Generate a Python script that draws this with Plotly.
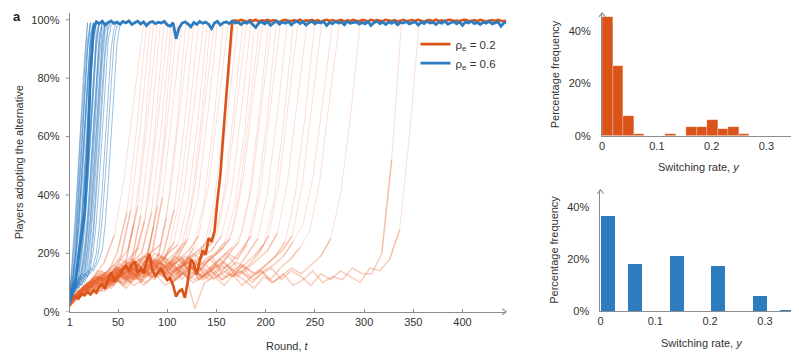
import plotly.graph_objects as go

W, H = 799, 352

# ------------------------------------------------------------------ data
round_ticks = [1, 50, 100, 150, 200, 250, 300, 350, 400]
pct_ticks_a = [0, 20, 40, 60, 80, 100]
pct_text_a = ["0%", "20%", "40%", "60%", "80%", "100%"]
pct_ticks_bc = [0, 20, 40]
pct_text_bc = ["0%", "20%", "40%"]
rate_ticks = [0, 0.1, 0.2, 0.3]
rate_ticktext = ["0", "0.1", "0.2", "0.3"]

# highlighted runs, sampled every 3 rounds from round 1
main_rounds = list(range(1, 446, 3))
orange_main = [
    4.0, 4.6, 5.3, 4.5, 6.2, 5.6, 6.8, 5.9, 7.4, 6.6,
    8.6, 9.4, 7.8, 11.2, 13.5, 10.3, 11.8, 12.6, 14.4, 15.6,
    14.2, 16.0, 17.2, 13.4, 14.6, 13.2, 17.0, 19.8, 14.0, 12.2,
    13.8, 15.0, 12.4, 10.8, 11.6, 9.0, 5.2, 7.0, 7.6, 4.8,
    10.5, 18.0, 16.5, 12.8, 17.4, 21.0, 19.5, 25.2, 24.0, 27.5,
    38.0, 47.0, 61.0, 74.0, 88.0, 99.5,
    99.8, 99.5, 100, 99.7, 99.3, 99.9, 99.6, 100, 99.4, 99.8,
    99.7, 100, 99.5, 99.9, 99.6, 99.2, 99.8, 100, 99.7, 99.5,
    99.9, 99.6, 100, 99.4, 99.8, 99.7, 100, 99.5, 99.9, 99.3,
    99.8, 100, 99.6, 99.9, 99.5, 99.7, 100, 99.4, 99.8, 99.6,
    100, 99.7, 99.5, 99.9, 99.8, 99.3, 100, 99.6, 99.9, 99.7,
    99.5, 100, 99.8, 99.6, 99.9, 99.4, 99.7, 100, 99.5, 99.8,
    99.9, 99.6, 100, 99.7, 99.3, 99.8, 99.9, 99.5, 100, 99.6,
    99.8, 99.4, 99.9, 100, 99.6, 99.7, 99.5, 99.9, 100, 99.7,
    99.6, 99.9, 99.5, 100, 99.8, 99.4, 99.7, 99.9, 99.6, 100,
    99.7, 99.5, 99.8,
]
blue_main = [
    3, 7, 11, 19, 26, 34, 52, 82, 97,
    99.3, 98.7, 99.5, 98.2, 99.1, 99.6, 98.8, 99.2, 98.5, 99.4,
    98.9, 99.6, 98.4, 99.0, 99.5, 98.6, 99.3, 98.0, 99.1, 99.4,
    98.7, 99.2, 98.9, 99.5, 98.3, 97.8, 99.0, 93.5, 97.2, 98.8,
    99.3, 98.6, 97.6, 99.1, 98.4, 99.4, 98.8, 99.2, 98.5, 97.0,
    98.9, 99.5, 98.2, 99.0, 99.3, 98.7, 99.6, 98.9, 99.1, 98.4,
    99.2, 98.8, 99.5, 98.3, 97.4, 98.9, 99.3, 98.6, 99.4, 98.1,
    99.0, 99.6, 98.5, 99.2, 98.8, 99.4, 98.3, 99.1, 99.5, 98.7,
    99.3, 98.2, 99.0, 99.5, 98.6, 99.2, 98.9, 99.4, 98.0, 99.1,
    98.7, 99.4, 98.9, 99.2, 98.3, 99.5, 98.8, 99.0, 99.3, 98.5,
    99.1, 98.6, 99.4, 98.1, 99.0, 99.5, 98.7, 99.2, 98.4, 99.3,
    98.8, 99.5, 98.3, 99.1, 98.9, 99.4, 98.6, 99.0, 99.3, 98.2,
    99.2, 98.7, 99.5, 98.9, 99.1, 98.4, 99.3, 98.8, 99.6, 98.5,
    99.0, 99.4, 98.6, 99.2, 98.1, 99.3, 98.9, 99.5, 98.7, 99.1,
    98.4, 99.2, 98.8, 99.5, 98.6, 99.0, 99.3, 97.8, 98.9, 99.2,
]

# other rho_e = 0.2 runs: first value at round 1, the rest every 10 rounds
# ending at the round where the run reaches 100 %
orange_thin_end = [76, 79, 83, 86, 90, 93, 97, 101, 104, 106, 110, 115, 119,
                   123, 127, 132, 137, 141, 144, 148, 151, 157, 162, 168, 172,
                   177, 181, 185, 189, 194, 197, 203, 206, 211, 215, 222, 228,
                   233, 242, 250, 257, 268, 275, 296, 338, 356]
orange_thin_values = [
    [3, 5, 8, 12, 17, 26, 45, 72, 99],
    [2, 6, 9, 14, 13, 20, 34, 63, 99],
    [4, 4, 7, 10, 12, 15, 19, 35, 64, 99],
    [2, 5, 9, 8, 13, 16, 14, 30, 58, 99],
    [3, 7, 10, 12, 11, 17, 21, 36, 66, 99],
    [5, 6, 8, 11, 14, 12, 18, 16, 33, 61, 99],
    [2, 4, 7, 10, 9, 15, 13, 19, 31, 60, 99],
    [3, 6, 9, 12, 10, 16, 18, 22, 38, 67, 99],
    [4, 5, 8, 7, 11, 14, 12, 17, 20, 34, 63, 99],
    [2, 5, 6, 10, 13, 9, 15, 18, 14, 29, 57, 99],
    [3, 7, 9, 12, 8, 14, 17, 13, 19, 36, 65, 99],
    [4, 5, 8, 11, 13, 10, 16, 14, 18, 21, 39, 68, 99],
    [2, 6, 10, 9, 12, 15, 11, 17, 20, 16, 32, 61, 99],
    [3, 4, 7, 9, 13, 11, 14, 18, 15, 20, 23, 40, 70, 99],
    [5, 6, 9, 12, 10, 15, 13, 17, 19, 14, 21, 35, 63, 99],
    [2, 3, 6, 8, 11, 9, 14, 16, 12, 18, 15, 22, 38, 66, 99],
    [4, 5, 9, 10, 13, 15, 11, 17, 14, 20, 18, 24, 41, 69, 99],
    [3, 7, 8, 12, 10, 14, 17, 13, 19, 16, 20, 23, 37, 65, 99],
    [2, 4, 8, 11, 9, 13, 16, 12, 18, 15, 19, 17, 22, 36, 64, 99],
    [4, 6, 9, 8, 12, 14, 10, 16, 19, 13, 17, 20, 24, 42, 71, 99],
    [3, 7, 10, 13, 11, 15, 12, 18, 14, 20, 16, 19, 25, 39, 67, 99],
    [5, 6, 8, 12, 10, 14, 17, 11, 15, 18, 13, 19, 16, 22, 37, 64, 99],
    [2, 3, 6, 9, 7, 11, 13, 10, 15, 12, 17, 14, 18, 21, 26, 43, 70, 99],
    [4, 5, 8, 11, 9, 13, 16, 12, 14, 18, 15, 11, 17, 20, 23, 38, 66, 99],
    [3, 4, 7, 9, 12, 10, 14, 11, 16, 13, 17, 15, 12, 18, 20, 25, 41, 69, 99],
    [2, 6, 8, 10, 13, 11, 15, 17, 13, 16, 19, 14, 18, 15, 21, 24, 39, 67, 99],
    [4, 7, 9, 12, 10, 14, 12, 16, 18, 14, 17, 13, 19, 16, 22, 27, 44, 72, 99],
    [3, 5, 8, 7, 11, 13, 9, 15, 12, 17, 14, 18, 11, 16, 19, 21, 26, 40, 68, 99],
    [2, 6, 9, 11, 10, 14, 16, 12, 18, 15, 13, 17, 19, 14, 18, 20, 24, 37, 63, 99],
    [4, 5, 7, 10, 12, 9, 13, 15, 11, 17, 14, 16, 19, 13, 15, 18, 21, 25, 42, 70, 99],
    [3, 6, 8, 9, 12, 14, 11, 16, 13, 18, 15, 12, 17, 20, 16, 19, 22, 28, 45, 73, 99],
    [2, 3, 6, 9, 11, 8, 12, 14, 10, 15, 13, 17, 14, 11, 16, 18, 15, 20, 24, 39, 67, 99],
    [4, 5, 9, 11, 8, 13, 15, 12, 16, 14, 18, 13, 17, 15, 12, 16, 19, 22, 27, 43, 71, 99],
    [3, 7, 8, 12, 10, 14, 11, 16, 13, 17, 15, 19, 14, 16, 12, 17, 20, 18, 23, 38, 65, 99],
    [2, 4, 7, 10, 9, 12, 15, 11, 14, 17, 13, 16, 18, 12, 15, 19, 14, 17, 21, 26, 42, 70, 99],
    [3, 4, 6, 8, 11, 13, 10, 14, 12, 16, 18, 13, 15, 17, 11, 14, 16, 19, 15, 20, 25, 41, 68, 99],
    [4, 6, 9, 7, 12, 10, 14, 16, 12, 15, 13, 17, 14, 18, 12, 15, 17, 13, 16, 19, 23, 37, 64, 99],
    [2, 3, 7, 9, 8, 11, 13, 10, 15, 12, 14, 17, 13, 16, 11, 14, 18, 15, 13, 16, 20, 26, 43, 71, 99],
    [3, 4, 5, 8, 10, 9, 12, 14, 11, 13, 16, 12, 15, 17, 13, 11, 14, 16, 12, 15, 18, 21, 27, 44, 72, 99],
    [4, 7, 9, 11, 10, 13, 15, 12, 16, 14, 11, 15, 17, 13, 16, 12, 14, 17, 15, 13, 16, 19, 24, 40, 67, 99],
    [2, 5, 8, 7, 10, 12, 9, 13, 15, 11, 14, 12, 16, 13, 15, 11, 14, 12, 16, 13, 15, 18, 21, 26, 43, 70, 99],
    [3, 6, 8, 10, 9, 12, 14, 11, 13, 16, 12, 15, 13, 11, 14, 16, 12, 15, 13, 11, 14, 16, 19, 24, 30, 46, 72, 99],
    [4, 5, 7, 9, 12, 10, 13, 11, 15, 12, 14, 10, 13, 15, 12, 14, 11, 13, 16, 12, 14, 11, 15, 18, 22, 28, 45, 73, 99],
    [2, 4, 6, 9, 8, 11, 10, 13, 9, 12, 14, 11, 13, 10, 12, 15, 11, 13, 9, 12, 14, 10, 12, 15, 13, 16, 19, 25, 40, 66, 99],
    [3, 5, 7, 6, 9, 11, 8, 12, 10, 13, 9, 11, 14, 1, 10, 12, 9, 13, 11, 8, 12, 10, 13, 9, 11, 14, 10, 12, 11, 15, 13, 13, 20, 52, 99],
    [2, 4, 6, 8, 7, 10, 12, 9, 11, 14, 12, 10, 13, 15, 11, 13, 16, 12, 14, 10, 13, 15, 11, 14, 12, 9, 13, 11, 14, 12, 10, 15, 14, 18, 28, 60, 99],
]

# other rho_e = 0.6 runs, sampled every 3 rounds from round 1
blue_thin_values = [
    [6, 20, 35, 52, 70, 87, 99],
    [5, 17, 31, 49, 67, 85, 99],
    [4, 12, 24, 39, 56, 73, 90, 99],
    [7, 15, 27, 43, 60, 78, 93, 99],
    [5, 10, 21, 36, 54, 72, 89, 99],
    [6, 9, 18, 29, 45, 61, 77, 92, 99],
    [3, 11, 20, 32, 48, 65, 82, 95, 99],
    [5, 8, 16, 27, 41, 58, 75, 91, 99],
    [8, 12, 19, 31, 46, 63, 80, 94, 99],
    [4, 8, 12, 19, 30, 44, 61, 78, 93, 99],
    [6, 7, 13, 22, 34, 49, 66, 84, 96, 99],
    [5, 10, 11, 18, 28, 42, 59, 76, 92, 99],
    [3, 6, 10, 20, 31, 47, 63, 81, 95, 99],
    [7, 9, 8, 13, 20, 30, 44, 60, 77, 92, 99],
    [5, 6, 11, 15, 23, 34, 49, 66, 83, 96, 99],
    [4, 8, 9, 12, 18, 28, 42, 58, 75, 90, 99],
    [6, 10, 12, 14, 21, 32, 46, 63, 80, 94, 99],
    [5, 7, 9, 11, 13, 19, 29, 43, 59, 76, 91, 99],
    [3, 6, 8, 12, 15, 22, 33, 48, 64, 81, 95, 99],
    [7, 8, 10, 9, 14, 20, 30, 45, 61, 78, 93, 99],
    [4, 9, 8, 10, 12, 14, 21, 31, 45, 61, 77, 92, 99],
    [6, 5, 9, 11, 13, 17, 26, 38, 54, 71, 87, 97, 99],
    [5, 8, 11, 10, 12, 15, 22, 33, 48, 64, 80, 94, 99],
    [4, 6, 8, 12, 11, 13, 18, 27, 40, 56, 73, 89, 98, 99],
    [7, 9, 7, 10, 13, 12, 16, 24, 36, 52, 69, 85, 96, 99],
    [5, 6, 9, 8, 11, 13, 12, 17, 26, 39, 55, 72, 88, 97, 99],
    [3, 7, 8, 10, 9, 12, 14, 19, 29, 43, 60, 77, 91, 98, 99],
    [6, 8, 7, 9, 12, 11, 13, 15, 21, 31, 45, 62, 79, 93, 98, 99],
    [4, 6, 9, 8, 10, 13, 12, 14, 16, 20, 29, 42, 58, 75, 90, 97, 99],
    [5, 7, 8, 10, 9, 11, 14, 13, 15, 17, 22, 32, 46, 63, 80, 93, 98, 99],
    [6, 5, 8, 9, 11, 10, 12, 15, 14, 16, 18, 21, 30, 44, 61, 78, 92, 98, 99],
]

# histograms of switching rate
b_rate = [0.0096, 0.0288, 0.048, 0.0672, 0.0864, 0.1056, 0.1248,
          0.144, 0.1632, 0.1824, 0.2016, 0.2208, 0.24, 0.2592]
b_freq = [45.2, 26.6, 7.5, 0.9, 0, 0, 0.9, 0, 3.4, 3.4, 6.0, 2.6, 3.4, 0.9]
c_rate = [0.0145, 0.064, 0.140, 0.216, 0.2915, 0.342]
c_freq = [36.7, 18.0, 21.3, 17.2, 5.8, 0.6]

# ------------------------------------------------------------------ style
ORANGE = "#DA5419"
BLUE = "#2E7CC0"
ORANGE_BAND = "rgba(234, 98, 48, 0.30)"
ORANGE_RISE = "rgba(240, 110, 65, 0.28)"
BLUE_THIN = "rgba(46, 124, 192, 0.48)"
AXIS = "#8c8c8c"
TXT = "#333333"
FONT = "Liberation Sans, Arial, sans-serif"


def fx(p):
    return p / W


def fy(p):
    return 1 - p / H


# panel rectangles in pixels
A = dict(x0=59, x1=497, y0=309, y1=5)
B = dict(x0=593.3, x1=797, y0=130, y1=5)
C = dict(x0=591.7, x1=796.7, y0=308.3, y1=185)

fig = go.Figure()

# thin orange runs: noisy low phase drawn a little heavier than the take-off
for end, vals in zip(orange_thin_end, orange_thin_values):
    n = len(vals) - 1
    rr = [1] + [end - 10 * (n - 1 - j) for j in range(n)]
    pts = [(r, v) for r, v in zip(rr, vals) if r >= 1]
    cut = next(i for i, p in enumerate(pts) if p[1] >= 22 or i == len(pts) - 1)
    low, high = pts[:cut + 1], pts[max(cut - 1, 0):]
    fig.add_trace(go.Scatter(x=[p[0] for p in low], y=[p[1] for p in low],
                             mode="lines", line=dict(color=ORANGE_BAND, width=1.6),
                             showlegend=False, hoverinfo="skip", xaxis="x", yaxis="y"))
    fig.add_trace(go.Scatter(x=[p[0] for p in high], y=[p[1] for p in high],
                             mode="lines", line=dict(color=ORANGE_RISE, width=0.8),
                             showlegend=False, hoverinfo="skip", xaxis="x", yaxis="y"))

# thin blue runs
for vals in blue_thin_values:
    rr = [1 + 3 * k for k in range(len(vals))]
    fig.add_trace(go.Scatter(x=rr, y=vals, mode="lines",
                             line=dict(color=BLUE_THIN, width=1.0),
                             showlegend=False, hoverinfo="skip", xaxis="x", yaxis="y"))

fig.add_trace(go.Scatter(x=main_rounds[:len(orange_main)], y=orange_main, mode="lines",
                         line=dict(color=ORANGE, width=2.6),
                         name="ρ<sub>e</sub> = 0.2", xaxis="x", yaxis="y"))
fig.add_trace(go.Scatter(x=main_rounds[:len(blue_main)], y=blue_main, mode="lines",
                         line=dict(color=BLUE, width=2.8),
                         name="ρ<sub>e</sub> = 0.6", xaxis="x", yaxis="y"))

fig.add_trace(go.Bar(x=b_rate, y=b_freq, width=0.0192, marker=dict(color=ORANGE,
                     line=dict(color="rgba(255,255,255,0.45)", width=0.5)),
                     showlegend=False, xaxis="x2", yaxis="y2"))
fig.add_trace(go.Bar(x=c_rate, y=c_freq, width=0.0252, marker=dict(color=BLUE,
                     line=dict(width=0)),
                     showlegend=False, xaxis="x3", yaxis="y3"))

tickfont = dict(family=FONT, size=11, color=TXT)
common = dict(showgrid=False, zeroline=False, showline=True, linecolor=AXIS,
              linewidth=1.2, tickfont=tickfont, fixedrange=True, tickmode="array")
CLEAR = "rgba(0,0,0,0)"

fig.update_layout(
    width=W, height=H, margin=dict(l=0, r=0, t=0, b=0),
    paper_bgcolor="white", plot_bgcolor="white",
    font=dict(family=FONT, size=11, color=TXT),
    bargap=0,
    xaxis=dict(domain=[fx(A["x0"]), fx(A["x1"])], range=[1, 1 + (A["x1"] - A["x0"]) / 0.988],
               tickvals=round_ticks, ticktext=[str(t) for t in round_ticks],
               ticks="inside", ticklen=3, tickcolor=AXIS,
               ticklabelstandoff=0, anchor="y", **common),
    yaxis=dict(domain=[fy(A["y0"]), fy(A["y1"])], range=[0, (A["y0"] - A["y1"]) / 2.97],
               tickvals=pct_ticks_a, ticktext=pct_text_a, ticks="outside", ticklen=7,
               tickcolor=CLEAR, anchor="x", **common),
    xaxis2=dict(domain=[fx(B["x0"]), fx(B["x1"])], range=[0, (B["x1"] - B["x0"]) / 550],
                tickvals=rate_ticks, ticktext=rate_ticktext, ticks="",
                ticklabelstandoff=0, anchor="y2", **common),
    yaxis2=dict(domain=[fy(B["y0"]), fy(B["y1"])], range=[0, (B["y0"] - B["y1"]) / 2.667],
                tickvals=pct_ticks_bc, ticktext=pct_text_bc, ticks="outside", ticklen=8,
                tickcolor=CLEAR, anchor="x2", **common),
    xaxis3=dict(domain=[fx(C["x0"]), fx(C["x1"])], range=[0, (C["x1"] - C["x0"]) / 550],
                tickvals=rate_ticks, ticktext=rate_ticktext, ticks="",
                ticklabelstandoff=0, anchor="y3", **common),
    yaxis3=dict(domain=[fy(C["y0"]), fy(C["y1"])], range=[0, (C["y0"] - C["y1"]) / 2.65],
                tickvals=pct_ticks_bc, ticktext=pct_text_bc, ticks="outside", ticklen=8,
                tickcolor=CLEAR, anchor="x3", **common),
    legend=dict(x=fx(406), y=fy(22), xanchor="left", yanchor="top",
                bgcolor="rgba(0,0,0,0)", font=dict(family=FONT, size=11.5, color=TXT),
                tracegroupgap=0, itemwidth=30),
)

# short visible tick marks on the left axis of panel a
for v in pct_ticks_a:
    fig.add_shape(type="line", xref="paper", yref="y", x0=fx(A["x0"] - 4), x1=fx(A["x0"]),
                  y0=v, y1=v, line=dict(color=AXIS, width=1))


def ann(text, x, y, size=11, angle=0, bold=False):
    fig.add_annotation(text=f"<b>{text}</b>" if bold else text, x=fx(x), y=fy(y),
                       xref="paper", yref="paper", showarrow=False, textangle=angle,
                       font=dict(family=FONT, size=size, color="#222" if bold else TXT),
                       xanchor="center", yanchor="middle")


ann("a", 6, 9, size=13, bold=True)
ann("b", 787, 10, size=13, bold=True)
ann("c", 787, 179, size=13, bold=True)
ann("Players adopting the alternative", 8, 157, angle=-90)
ann("Round, <i>t</i>", 278, 344)
ann("Percentage frequency", 545.5, 67, angle=-90)
ann("Switching rate, <i>y</i>", 691, 162)
ann("Percentage frequency", 545, 246, angle=-90)
ann("Switching rate, <i>y</i>", 694, 341)


def arrow(x, y, direction):
    s = 4
    if direction == "right":
        pts = [(x - s, y - s * 0.8), (x, y), (x - s, y + s * 0.8)]
    else:
        pts = [(x - s * 0.8, y + s), (x, y), (x + s * 0.8, y + s)]
    path = "M {} {} L {} {} L {} {}".format(*[v for p in pts for v in (fx(p[0]), fy(p[1]))])
    fig.add_shape(type="path", path=path, xref="paper", yref="paper",
                  line=dict(color=AXIS, width=1.1))


arrow(A["x1"], A["y0"], "right")
arrow(B["x1"], B["y0"], "right")
arrow(B["x0"], B["y1"], "up")
arrow(C["x1"], C["y0"], "right")
arrow(C["x0"], C["y1"], "up")

fig.write_html("out.html")
